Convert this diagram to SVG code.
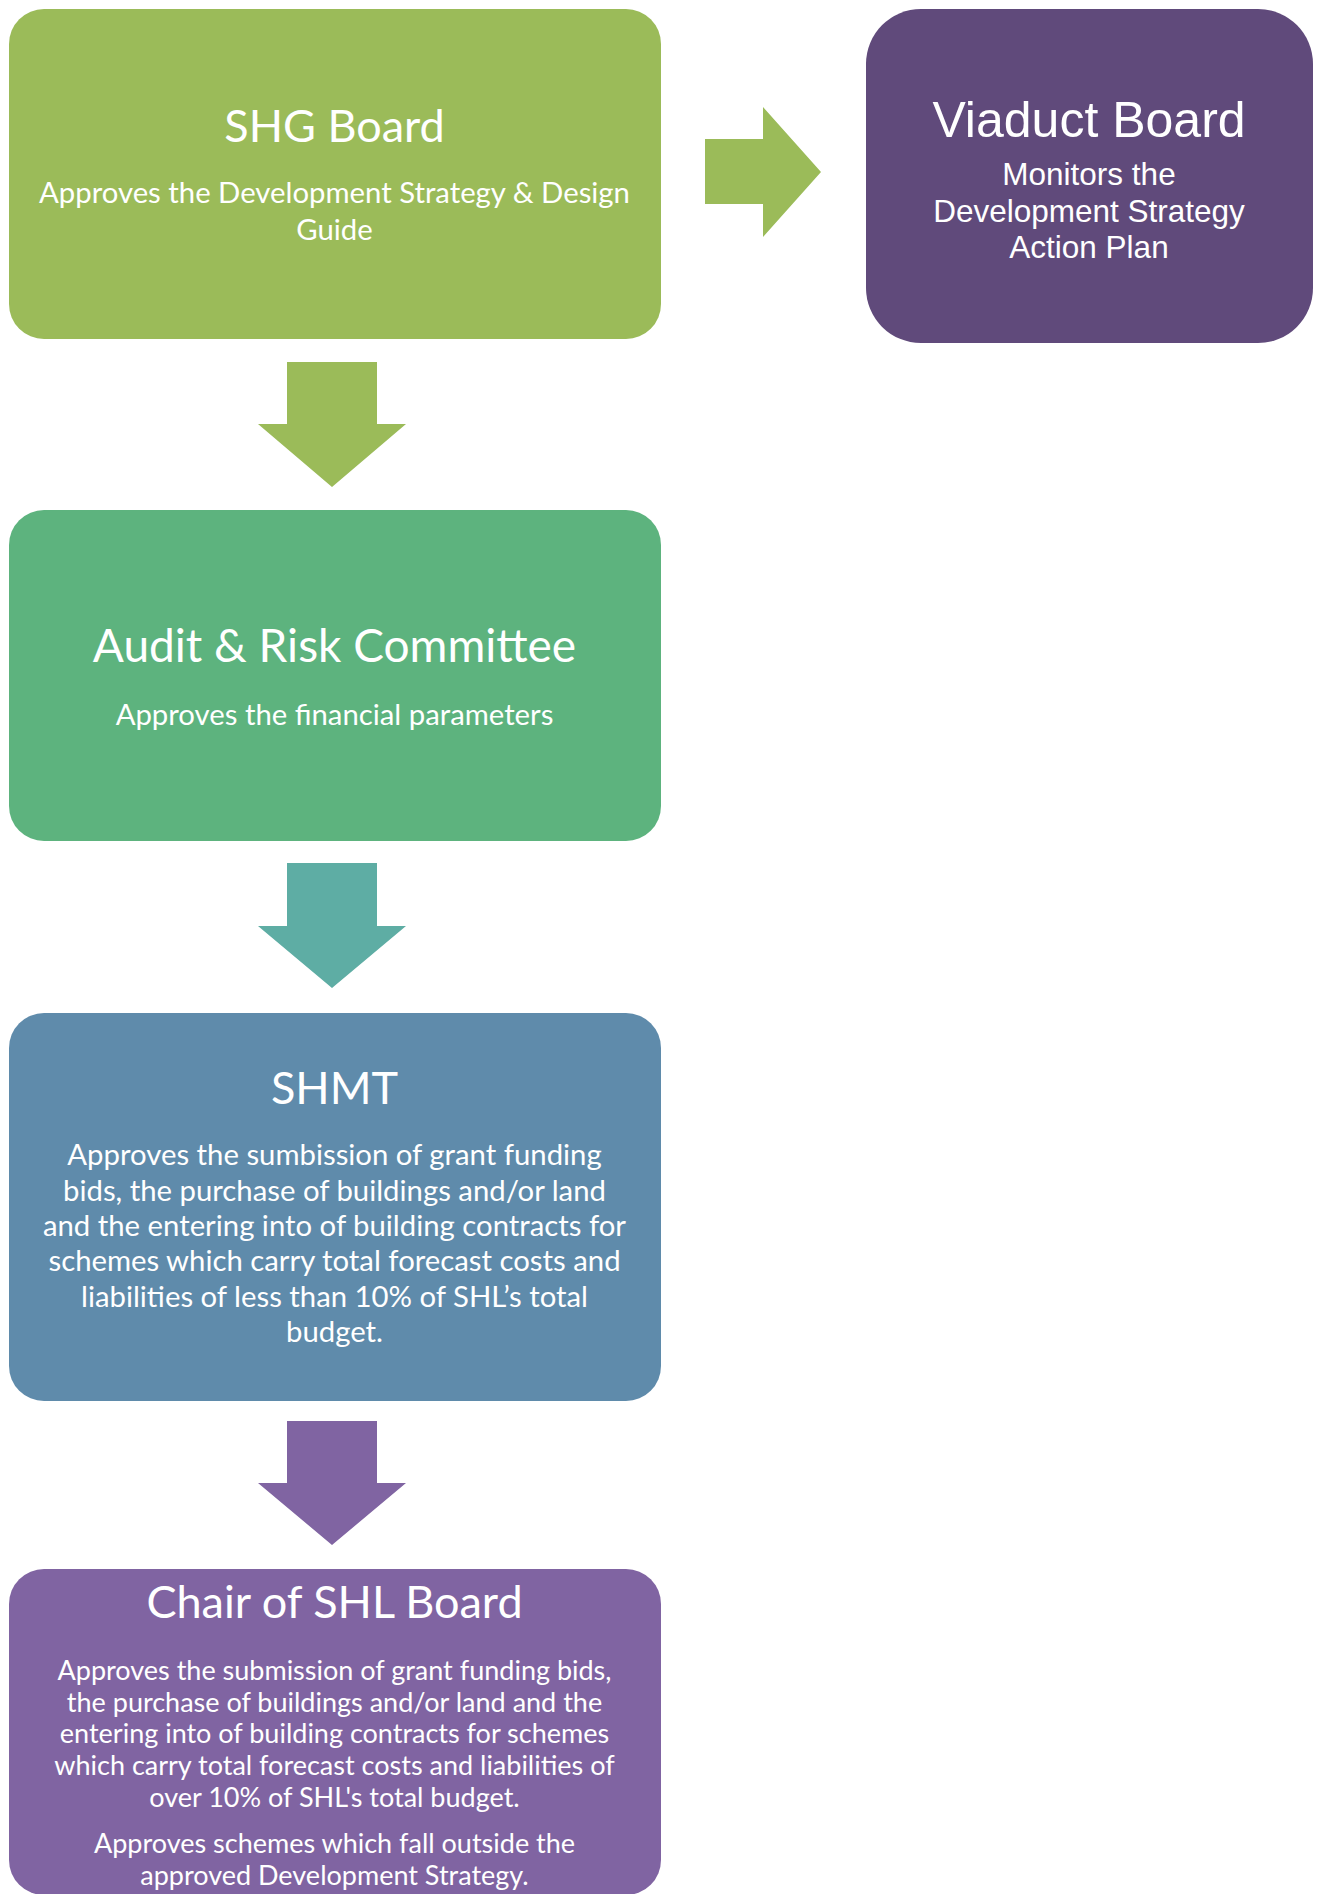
<svg xmlns="http://www.w3.org/2000/svg" width="1318" height="1894" viewBox="0 0 1318 1894">
  <style>
    .t { font-family: Lato, "Open Sans", sans-serif; fill: #ffffff; text-anchor: middle; }
    .h { font-size: 45px; }
    .s { font-size: 29.3px; }
    .b { font-size: 29.3px; }
    .c { font-size: 27px; }
    .v { font-family: "Liberation Sans", Arial, sans-serif; fill: #ffffff; text-anchor: middle; }
  </style>
  <rect width="1318" height="1894" fill="#ffffff"/>

  <!-- flow arrows -->
  <g id="connectors">
    <polygon points="705,139 763,139 763,107 821,172 763,237 763,204 705,204" fill="#9bbb59"/>
    <polygon points="287,362 377,362 377,424 406,424 332,487 258,424 287,424" fill="#9bbb59"/>
    <polygon points="287,863 377,863 377,926 406,926 332,988 258,926 287,926" fill="#5eada4"/>
    <polygon points="287,1421 377,1421 377,1483 406,1483 332,1545 258,1483 287,1483" fill="#8064a2"/>
  </g>

  <g id="shg-board">
    <rect x="9" y="9" width="652" height="330" rx="35" fill="#9bbb59"/>
    <text class="t h" x="334.5" y="142">SHG Board</text>
    <text class="t s" x="334.5" y="203">Approves the Development Strategy &amp; Design</text>
    <text class="t s" x="334.5" y="240">Guide</text>
  </g>

  <g id="viaduct-board">
    <rect x="866" y="9" width="447" height="334" rx="55" fill="#604a7b"/>
    <text class="v" x="1089" y="137" font-size="50">Viaduct Board</text>
    <text class="v" x="1089" y="185" font-size="31.5">Monitors the</text>
    <text class="v" x="1089" y="222" font-size="31.5">Development Strategy</text>
    <text class="v" x="1089" y="258" font-size="31.5">Action Plan</text>
  </g>

  <g id="audit-risk">
    <rect x="9" y="510" width="652" height="331" rx="35" fill="#5db37e"/>
    <text class="t" x="334.5" y="662" font-size="46">Audit &amp; Risk Committee</text>
    <text class="t s" x="334.5" y="725">Approves the financial parameters</text>
  </g>

  <g id="shmt">
    <rect x="9" y="1013" width="652" height="388" rx="35" fill="#5f8bab"/>
    <text class="t h" x="334.5" y="1104">SHMT</text>
    <text class="t b" x="334.5" y="1165">Approves the sumbission of grant funding</text>
    <text class="t b" x="334.5" y="1200.5">bids, the purchase of buildings and/or land</text>
    <text class="t b" x="334.5" y="1236">and the entering into of building contracts for</text>
    <text class="t b" x="334.5" y="1271">schemes which carry total forecast costs and</text>
    <text class="t b" x="334.5" y="1306.5">liabilities of less than 10% of SHL’s total</text>
    <text class="t b" x="334.5" y="1342">budget.</text>
  </g>

  <g id="chair-shl">
    <rect x="9" y="1569" width="652" height="326" rx="35" fill="#8064a2"/>
    <text class="t h" x="334.5" y="1618">Chair of SHL Board</text>
    <text class="t c" x="334.5" y="1680">Approves the submission of grant funding bids,</text>
    <text class="t c" x="334.5" y="1711.7">the purchase of buildings and/or land and the</text>
    <text class="t c" x="334.5" y="1743.3">entering into of building contracts for schemes</text>
    <text class="t c" x="334.5" y="1775">which carry total forecast costs and liabilities of</text>
    <text class="t c" x="334.5" y="1807">over 10% of SHL's total budget.</text>
    <text class="t c" x="334.5" y="1853">Approves schemes which fall outside the</text>
    <text class="t c" x="334.5" y="1885">approved Development Strategy.</text>
  </g>
</svg>
